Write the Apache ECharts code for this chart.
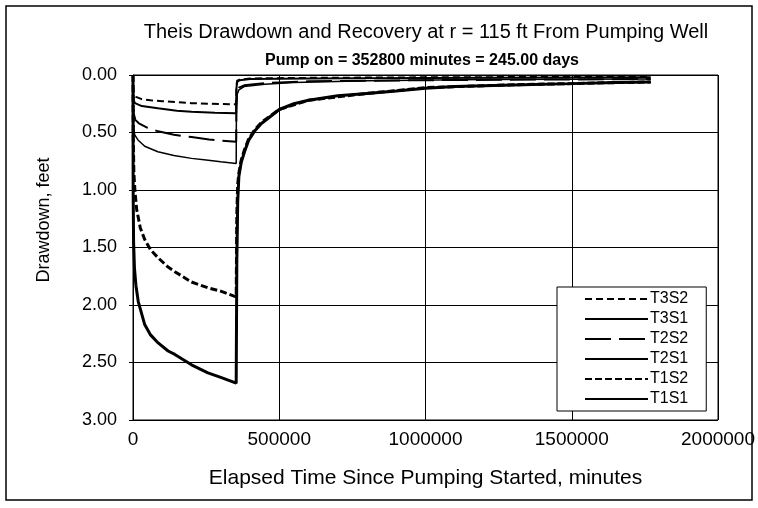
<!DOCTYPE html>
<html>
<head>
<meta charset="utf-8">
<script src="https://cdn.jsdelivr.net/npm/echarts@6/dist/echarts.min.js"></script>
<style>
  html, body { margin: 0; padding: 0; background: #fff; }
  #chart { width: 758px; height: 508px; }
</style>
</head>
<body>
<div id="chart"></div>
<script>
// [minutes, drawdown ft]
var t1s1 = [[0,0],[500,1.0],[2000,1.45],[5000,1.68],[10000,1.83],[18000,1.97],[40000,2.17],[60000,2.26],[86000,2.33],[120000,2.40],[143000,2.43],[200000,2.52],[256000,2.59],[300000,2.63],[352800,2.68],
  [355000,1.6],[358000,1.1],[362000,0.88],[370000,0.76],[381000,0.67],[395000,0.57],[415000,0.49],[440000,0.42],[460000,0.38],[500000,0.30],[550000,0.25],[600000,0.22],[700000,0.18],[800000,0.16],[900000,0.14],[1000000,0.115],[1100000,0.10],[1300000,0.087],[1500000,0.075],[1650000,0.065],[1770000,0.06]];
var t1s2 = [[0,0],[1000,0.55],[3000,0.85],[7000,1.02],[12600,1.17],[25000,1.33],[40000,1.43],[60000,1.52],[86000,1.59],[120000,1.67],[143000,1.71],[200000,1.80],[256000,1.85],[300000,1.88],[352800,1.93],
  [355000,1.2],[358000,0.95],[362000,0.85],[370000,0.74],[381000,0.65],[395000,0.56],[415000,0.48],[440000,0.41],[500000,0.30],[600000,0.22],[800000,0.16],[1000000,0.11],[1300000,0.085],[1770000,0.06]];
var t2s1 = [[0,0],[500,0.35],[2000,0.47],[6000,0.52],[17000,0.565],[40000,0.62],[85000,0.667],[140000,0.70],[200000,0.725],[250000,0.74],[300000,0.755],[352800,0.77],
  [353500,0.3],[356000,0.17],[362000,0.13],[380000,0.10],[450000,0.08],[550000,0.065],[800000,0.05],[1200000,0.04],[1770000,0.035]];
var t2s2 = [[0,0],[500,0.22],[2000,0.33],[8000,0.39],[20000,0.42],[50000,0.46],[86000,0.49],[140000,0.52],[200000,0.54],[260000,0.56],[300000,0.57],[352800,0.58],
  [353500,0.25],[356000,0.14],[362000,0.11],[380000,0.09],[450000,0.07],[600000,0.055],[1000000,0.045],[1770000,0.035]];
var t3s1 = [[0,0],[300,0.15],[2000,0.22],[7000,0.245],[30000,0.27],[85000,0.29],[150000,0.31],[200000,0.32],[280000,0.328],[352800,0.333],
  [353500,0.12],[356000,0.06],[365000,0.045],[400000,0.035],[600000,0.03],[1000000,0.025],[1770000,0.02]];
var t3s2 = [[0,0],[500,0.1],[2000,0.15],[10000,0.19],[30000,0.21],[60000,0.22],[100000,0.228],[200000,0.245],[300000,0.252],[352800,0.255],
  [353500,0.1],[356000,0.05],[365000,0.04],[400000,0.03],[600000,0.025],[1000000,0.02],[1770000,0.015]];

var legendOrder = ['T3S2', 'T3S1', 'T2S2', 'T2S1', 'T1S2', 'T1S1'];

var FONT = '"Liberation Sans", Arial, sans-serif';
var chart = echarts.init(document.getElementById('chart'));

function line(name, data, width, dash) {
  return {
    name: name,
    type: 'line',
    data: data,
    symbol: 'none',
    smooth: false,
    animation: false,
    itemStyle: { color: '#000' },
    lineStyle: { color: '#000', width: width, type: dash || 'solid' }
  };
}

var option = {
  backgroundColor: '#fff',
  title: [
    { text: 'Theis Drawdown and Recovery at r = 115 ft From Pumping Well', left: 421, top: 17, textAlign: 'center',
      textStyle: { fontFamily: FONT, fontSize: 20, fontWeight: 'normal', color: '#000' } },
    { text: 'Pump on = 352800 minutes = 245.00 days', left: 417, top: 48, textAlign: 'center',
      textStyle: { fontFamily: FONT, fontSize: 16, fontWeight: 'bold', color: '#000' } }
  ],
  graphic: [
    { type: 'rect', shape: { x: 6, y: 6, width: 746, height: 494 }, style: { fill: 'none', stroke: '#000', lineWidth: 1.5 } },
    { type: 'text', x: 44, y: 220, rotation: Math.PI / 2,
      style: { text: 'Drawdown, feet', font: '18px ' + FONT, fill: '#000', textAlign: 'center', textVerticalAlign: 'middle' } }
  ],
  legend: {
    data: legendOrder,
    orient: 'vertical',
    left: 557,
    top: 287,
    padding: [4, 18, 4, 27],
    itemWidth: 63,
    itemHeight: 12,
    itemGap: 4,
    backgroundColor: '#fff',
    borderColor: '#000',
    borderWidth: 1,
    borderRadius: 0,
    itemStyle: { opacity: 0 },
    textStyle: { fontFamily: FONT, fontSize: 16, color: '#000', padding: [0, 0, 0, -3] }
  },
  grid: {
    left: 133, right: 38, top: 75, bottom: 88,
    show: true, borderColor: '#000', borderWidth: 1, backgroundColor: '#fff'
  },
  xAxis: {
    type: 'value',
    min: 0, max: 2000000, interval: 500000,
    name: 'Elapsed Time Since Pumping Started, minutes',
    nameLocation: 'middle',
    nameGap: 48,
    nameTextStyle: { fontFamily: FONT, fontSize: 21, color: '#000' },
    axisLine: { show: true, lineStyle: { color: '#000', width: 1 } },
    axisTick: { show: true, length: 4, lineStyle: { color: '#000' } },
    axisLabel: { fontFamily: FONT, fontSize: 19, color: '#000', margin: 10,
      formatter: function (v) { return String(v); } },
    splitLine: { show: true, lineStyle: { color: '#000', width: 1 } }
  },
  yAxis: {
    type: 'value',
    inverse: true,
    min: 0, max: 3, interval: 0.5,
    axisLine: { show: true, lineStyle: { color: '#000', width: 1 } },
    axisTick: { show: true, length: 4, lineStyle: { color: '#000' } },
    axisLabel: { fontFamily: FONT, fontSize: 18, color: '#000', margin: 16,
      formatter: function (v) { return v.toFixed(2); } },
    splitLine: { show: true, lineStyle: { color: '#000', width: 1 } }
  },
  series: [
    line('T1S1', t1s1, 3),
    line('T1S2', t1s2, 3, [7, 3]),
    line('T2S1', t2s1, 1.5),
    line('T2S2', t2s2, 2, [26, 8]),
    line('T3S1', t3s1, 2),
    line('T3S2', t3s2, 2, [7, 4])
  ]
};
chart.setOption(option);
</script>
</body>
</html>
